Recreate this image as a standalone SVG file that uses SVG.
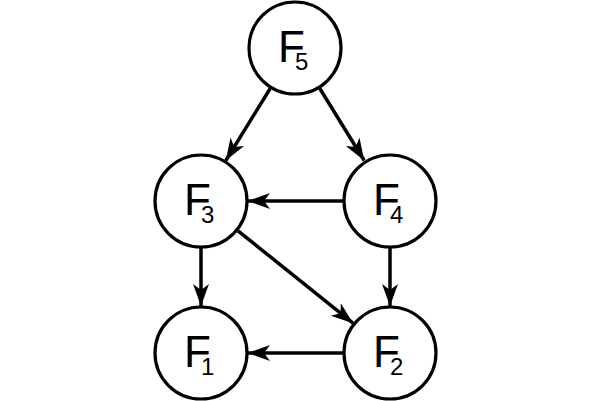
<svg xmlns="http://www.w3.org/2000/svg" width="600" height="401" viewBox="0 0 600 401">
<style>
.n{fill:#fff;stroke:#000;stroke-width:3.2}
.e{stroke:#000;stroke-width:3.5;fill:none;marker-end:url(#ah)}
.f{font-family:"Liberation Sans",Arial,sans-serif;font-size:44px;fill:#000}
.s{font-size:24px}
</style>
<defs>
<marker id="ah" markerUnits="userSpaceOnUse" markerWidth="24" markerHeight="18" refX="22" refY="9" orient="auto">
<path d="M0,1 L22,9 L0,17 L6,9 z" fill="#000"/>
</marker>
</defs>
<rect width="600" height="401" fill="#fff"/>
<g id="connectors">
<line class="e" x1="270.2" y1="88.5" x2="225.8" y2="160.5"/>
<line class="e" x1="319.8" y1="88.5" x2="364.2" y2="160.5"/>
<line class="e" x1="343" y1="201" x2="248" y2="201"/>
<line class="e" x1="201" y1="248" x2="201" y2="306"/>
<line class="e" x1="390" y1="248" x2="390" y2="306"/>
<line class="e" x1="238" y1="230.8" x2="353" y2="323.2"/>
<line class="e" x1="343" y1="353" x2="248" y2="353"/>
</g>
<g id="F5"><circle class="n" cx="295" cy="48" r="46"/><text class="f" x="278" y="62">F<tspan class="s" x="295" y="70">5</tspan></text></g>
<g id="F3"><circle class="n" cx="201" cy="201" r="46"/><text class="f" x="184" y="215">F<tspan class="s" x="201" y="223">3</tspan></text></g>
<g id="F4"><circle class="n" cx="390" cy="201" r="46"/><text class="f" x="373" y="215">F<tspan class="s" x="390" y="223">4</tspan></text></g>
<g id="F1"><circle class="n" cx="201" cy="353" r="46"/><text class="f" x="184" y="367">F<tspan class="s" x="201" y="375">1</tspan></text></g>
<g id="F2"><circle class="n" cx="390" cy="353" r="46"/><text class="f" x="373" y="367">F<tspan class="s" x="390" y="375">2</tspan></text></g>
</svg>
